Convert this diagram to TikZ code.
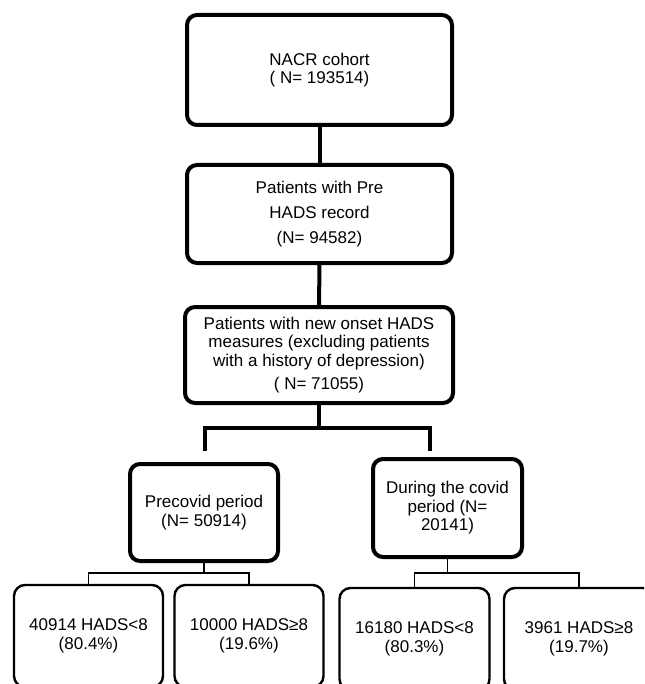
\documentclass[tikz,border=0pt]{standalone}
\usepackage{fontspec}
\setmainfont{Liberation Sans}
\usetikzlibrary{calc}

\begin{document}
\begin{tikzpicture}[x=1pt, y=-1pt,
  bigbox/.style={draw=black, rounded corners=10pt, line width=4pt, align=center,
    inner sep=2pt, font=\fontsize{17}{18.5}\selectfont},
  leafbox/.style={draw=black, rounded corners=11pt, line width=2.4pt, align=center,
    inner sep=2pt, minimum width=149pt, minimum height=102pt, font=\fontsize{17}{18.5}\selectfont},
  link/.style={line width=4pt, line join=miter},
  twig/.style={line width=1.6pt, line join=miter}
]
\useasboundingbox (0,0) rectangle (644,684);
\clip (0,0) rectangle (644,684);

% main chain
\node[bigbox, minimum width=265pt, minimum height=110pt] (cohort) at (319.5,70)
  {NACR cohort\\( N= 193514)};
\node[bigbox, minimum width=265pt, minimum height=98pt] (hadsrec) at (319.5,214)
  {Patients with Pre\\[6.5pt]HADS record\\[6.5pt](N= 94582)};
\node[bigbox, minimum width=268pt, minimum height=96pt] (onset) at (319,355)
  {Patients with new onset HADS\\measures (excluding patients\\with a history of depression)\\[4.5pt]( N= 71055)};
\node[bigbox, minimum width=148pt, minimum height=97pt] (precovid) at (204,512.5)
  {Precovid period\\(N= 50914)};
\node[bigbox, minimum width=149pt, minimum height=98pt] (covid) at (447.5,508)
  {During the covid\\period (N=\\20141)};

% HADS split
\node[leafbox] (prelow) at (88.5,636) {40914 HADS<8\\(80.4\%)};
\node[leafbox] (prehigh) at (249,636) {10000 HADS≥8\\(19.6\%)};
\node[leafbox, minimum width=150pt] (covlow) at (414.5,639) {16180 HADS<8\\(80.3\%)};
\node[leafbox, minimum width=150pt] (covhigh) at (579,639) {3961 HADS≥8\\(19.7\%)};

\coordinate (split) at (319,428);
\coordinate (pretop) at (205,451);
\coordinate (covtop) at (430,451);
\coordinate (prefork) at (204,573);
\coordinate (covfork) at (447.5,573);

\draw[link] (cohort) -- (hadsrec);
\draw[link] (hadsrec) -- (onset);
\draw[link] (onset) -- (split);
\draw[link] (pretop) |- (split) -| (covtop);

\draw[twig] (precovid) -- (prefork);
\draw[twig] (prelow.north) |- (prefork) -| (prehigh.north);
\draw[twig] (covid) -- (covfork);
\draw[twig] (covlow.north) |- (covfork) -| (covhigh.north);
\end{tikzpicture}
\end{document}
